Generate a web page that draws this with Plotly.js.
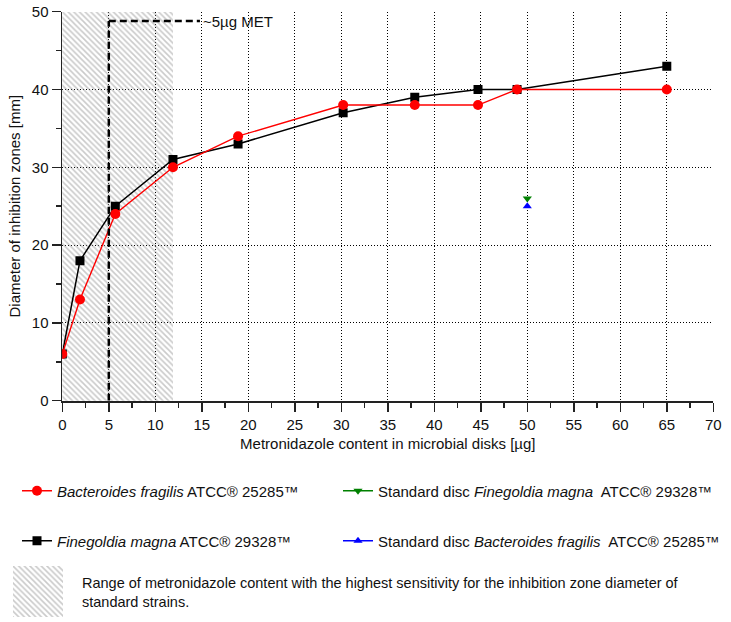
<!DOCTYPE html>
<html>
<head>
<meta charset="utf-8">
<script src="https://cdn.plot.ly/plotly-3.0.1.min.js"></script>
<style>html,body{margin:0;padding:0;background:#fff;}</style>
</head>
<body>
<div id="chart" style="width:731px;height:622px;"></div>
<script>
// Data
const doseX = [0, 1.9, 5.7, 11.9, 18.9, 30.2, 37.9, 44.7, 48.9, 65];
const bacteroidesY = [6, 13, 24, 30, 34, 38, 38, 38, 40, 40];
const finegoldiaY = [6, 18, 25, 31, 33, 37, 39, 40, 40, 43];
const standardX = [50];
const stdFinegoldiaY = [26];
const stdBacteroidesY = [25];
const rangeStart = 0, rangeEnd = 11.9, rangeTop = 50;
const metX = 5, metY = 48.8, metLabelX = 14.8;
const xGridVals = [5, 10, 15, 20, 25, 30, 35, 40, 45, 50, 55, 60, 65];
const yGridVals = [10, 20, 30, 40];

const FONT = 'Liberation Sans, Arial, sans-serif';
const FS = 15;
const W = 731, H = 622;
const px = v => v / W;
const py = v => 1 - v / H;

const hatch = {shape: '\\', fgcolor: '#959595', bgcolor: 'rgba(0,0,0,0)', size: 4, solidity: 0.4, fillmode: 'overlay'};

const traces = [
  {type: 'bar', x: [(rangeStart + rangeEnd) / 2], y: [rangeTop], width: [rangeEnd - rangeStart], base: 0,
   marker: {color: 'rgba(0,0,0,0)', line: {width: 0}, pattern: hatch}, showlegend: false, hoverinfo: 'skip'},
  {type: 'scatter', mode: 'lines+markers', x: doseX, y: finegoldiaY,
   name: '<i>Finegoldia magna</i> ATCC® 29328™', legend: 'legend2',
   line: {color: '#000000', width: 1.5}, marker: {symbol: 'square', size: 9, color: '#000000'}},
  {type: 'scatter', mode: 'lines+markers', x: doseX, y: bacteroidesY,
   name: '<i>Bacteroides fragilis</i> ATCC® 25285™', legend: 'legend',
   line: {color: '#ff0000', width: 1.4}, marker: {symbol: 'circle', size: 10, color: '#ff0000'}},
  {type: 'scatter', mode: 'lines+markers', x: standardX, y: stdFinegoldiaY,
   name: 'Standard disc <i>Finegoldia magna</i>\u00a0 ATCC® 29328™', legend: 'legend3',
   line: {color: '#008000', width: 1.4}, marker: {symbol: 'triangle-down', size: 8, color: '#008000'}},
  {type: 'scatter', mode: 'lines+markers', x: standardX, y: stdBacteroidesY,
   name: 'Standard disc <i>Bacteroides fragilis</i>\u00a0 ATCC® 25285™', legend: 'legend4',
   line: {color: '#0000ff', width: 1.4}, marker: {symbol: 'triangle-up', size: 8, color: '#0000ff'}},
  // hatch sample for legend box
  {type: 'bar', x: [0.5], y: [1], width: [1], base: 0, xaxis: 'x2', yaxis: 'y2',
   marker: {color: 'rgba(0,0,0,0)', line: {width: 0}, pattern: hatch}, showlegend: false, hoverinfo: 'skip'},
  // carriers for grid axes
  {type: 'scatter', mode: 'markers', x: [null], y: [null], xaxis: 'x3', yaxis: 'y', showlegend: false, hoverinfo: 'skip'},
  {type: 'scatter', mode: 'markers', x: [null], y: [null], xaxis: 'x', yaxis: 'y3', showlegend: false, hoverinfo: 'skip'}
];

const gridStyle = {showgrid: true, gridcolor: '#000000', gridwidth: 1, griddash: '1px,2px',
  showticklabels: false, ticks: '', showline: false, zeroline: false};

const legendBase = {font: {family: FONT, size: FS, color: '#111'}, bgcolor: 'rgba(0,0,0,0)',
  xanchor: 'left', yanchor: 'middle', borderwidth: 0};

const layout = {
  width: W, height: H,
  margin: {l: 0, r: 0, t: 0, b: 0},
  paper_bgcolor: '#ffffff', plot_bgcolor: '#ffffff',
  font: {family: FONT, size: FS, color: '#111'},
  showlegend: true,
  bargap: 0,
  xaxis: {domain: [px(62.3), px(713.3)], range: [0, 70], anchor: 'y',
    tickmode: 'linear', tick0: 0, dtick: 5, ticks: 'outside', ticklen: 9, tickwidth: 1.5, tickcolor: '#222',
    minor: {dtick: 2.5, ticks: 'outside', ticklen: 5, tickwidth: 1.5, tickcolor: '#222', showgrid: false},
    showgrid: false, zeroline: false, showline: true, linecolor: '#222', linewidth: 1.8,
    tickfont: {family: FONT, size: FS, color: '#111'},
    title: {text: 'Metronidazole content in microbial disks [µg]', font: {family: FONT, size: FS, color: '#111'}, standoff: 7},
    fixedrange: true},
  yaxis: {domain: [1 - 400.7 / H, 1 - 11.7 / H], range: [0, 50], anchor: 'x',
    tickmode: 'linear', tick0: 0, dtick: 10, ticks: 'outside', ticklen: 9, tickwidth: 1.5, tickcolor: '#222',
    minor: {dtick: 5, ticks: 'outside', ticklen: 5, tickwidth: 1.5, tickcolor: '#222', showgrid: false},
    showgrid: false, zeroline: false, showline: true, linecolor: '#222', linewidth: 1.8,
    tickfont: {family: FONT, size: FS, color: '#111'},
    title: {text: 'Diameter of inhibition zones [mm]', font: {family: FONT, size: FS, color: '#111'}, standoff: 7},
    fixedrange: true},
  xaxis3: Object.assign({overlaying: 'x', range: [0, 70], tickmode: 'array', tickvals: xGridVals, anchor: 'y'}, gridStyle),
  yaxis3: Object.assign({overlaying: 'y', range: [0, 50], tickmode: 'array', tickvals: yGridVals, anchor: 'x'}, gridStyle),
  xaxis2: {domain: [px(13), px(63)], range: [0, 1], anchor: 'y2', visible: false, fixedrange: true},
  yaxis2: {domain: [py(617), py(566)], range: [0, 1], anchor: 'x2', visible: false, fixedrange: true},
  legend: Object.assign({x: px(17), y: py(491)}, legendBase),
  legend2: Object.assign({x: px(17), y: py(541)}, legendBase),
  legend3: Object.assign({x: px(338), y: py(491)}, legendBase),
  legend4: Object.assign({x: px(338), y: py(541)}, legendBase),
  shapes: [
    {type: 'line', xref: 'x', yref: 'y', x0: metX, y0: 0, x1: metX, y1: metY, layer: 'above',
     line: {color: '#000', width: 2.5, dash: '7px,4px'}},
    {type: 'line', xref: 'x', yref: 'y', x0: metX, y0: metY, x1: metLabelX, y1: metY, layer: 'above',
     line: {color: '#000', width: 2.5, dash: '7px,4px'}}
  ],
  annotations: [
    {xref: 'x', yref: 'y', x: metLabelX, y: metY, text: '~5µg MET', showarrow: false, xanchor: 'left', yanchor: 'middle',
     xshift: 1, font: {family: FONT, size: FS, color: '#111'}},
    {xref: 'paper', yref: 'paper', x: px(80), y: py(592), showarrow: false, xanchor: 'left', yanchor: 'middle', align: 'left',
     text: 'Range of metronidazole content with the highest sensitivity for the inhibition zone diameter of<br>standard strains.',
     font: {family: FONT, size: 14.5, color: '#111'}}
  ]
};

Plotly.newPlot('chart', traces, layout, {displayModeBar: false, staticPlot: true});
</script>
</body>
</html>
